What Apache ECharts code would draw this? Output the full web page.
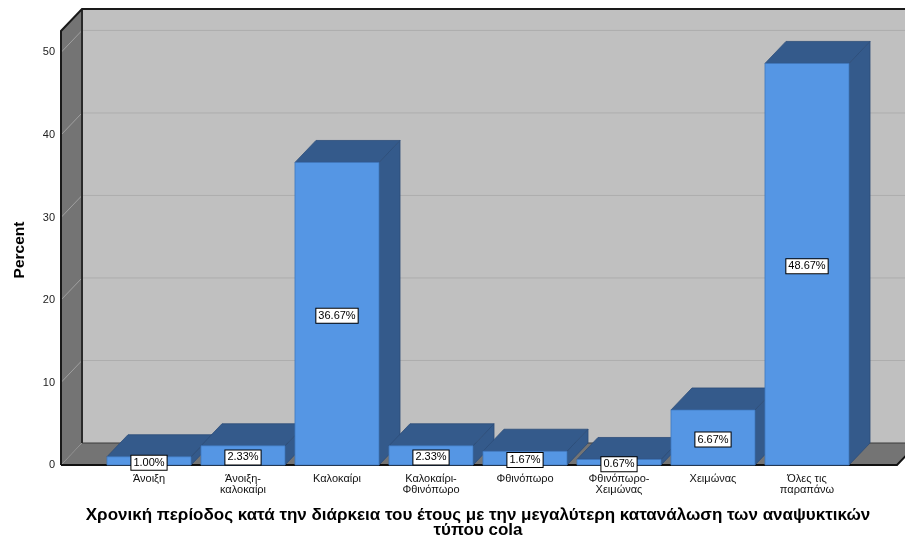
<!DOCTYPE html>
<html>
<head>
<meta charset="utf-8">
<script src="https://cdn.jsdelivr.net/npm/echarts@6/dist/echarts.min.js"></script>
<style>
  html, body { margin: 0; padding: 0; background: #fff; }
  #chart { width: 905px; height: 540px; }
</style>
</head>
<body>
<div id="chart"></div>
<script>
// Period of the year with the highest cola consumption (percent of respondents)
const categories = [
  'Άνοιξη',
  'Άνοιξη-\nκαλοκαίρι',
  'Καλοκαίρι',
  'Καλοκαίρι-\nΦθινόπωρο',
  'Φθινόπωρο',
  'Φθινόπωρο-\nΧειμώνας',
  'Χειμώνας',
  'Όλες τις\nπαραπάνω'
];
const percentValues = [1.00, 2.33, 36.67, 2.33, 1.67, 0.67, 6.67, 48.67];
const yTickValues = [0, 10, 20, 30, 40, 50];
const yMax = 52.6;

const xTitle = 'Χρονική περίοδος κατά την διάρκεια του έτους με την μεγαλύτερη κατανάλωση των αναψυκτικών\nτύπου cola';
const yTitle = 'Percent';

// pseudo-3D look
const DEPTH_X = 21, DEPTH_Y = 22;
const PAD_LEFT = 41, PAD_RIGHT = 43;
const BAR_RATIO = 0.894;
const FONT = 'Arial, "Liberation Sans", sans-serif';

const chart = echarts.init(document.getElementById('chart'), null, { renderer: 'canvas' });

function renderBox(params, api) {
  const band = api.size([1, 0])[0];
  const x0 = api.coord([0, 0])[0] - band / 2 - PAD_LEFT;
  const x1 = api.coord([categories.length - 1, 0])[0] + band / 2 + PAD_RIGHT;
  const yb = api.coord([0, 0])[1];
  const yt = api.coord([0, yMax])[1];
  const bx0 = x0 + DEPTH_X, bx1 = x1 + DEPTH_X;
  const children = [];
  // back wall
  children.push({ type: 'rect', shape: { x: bx0, y: yt - DEPTH_Y, width: bx1 - bx0, height: yb - yt },
    style: { fill: '#c0c0c0' } });
  // gridlines on back wall and left wall
  yTickValues.forEach(function (t) {
    if (t === 0) return;
    const y = api.coord([0, t])[1];
    children.push({ type: 'line', shape: { x1: bx0, y1: y - DEPTH_Y, x2: bx1, y2: y - DEPTH_Y },
      style: { stroke: '#adadad', lineWidth: 1 } });
  });
  // left wall
  children.push({ type: 'polygon', shape: { points: [[x0, yb], [x0, yt], [bx0, yt - DEPTH_Y], [bx0, yb - DEPTH_Y]] },
    style: { fill: '#747474' } });
  yTickValues.forEach(function (t) {
    if (t === 0) return;
    const y = api.coord([0, t])[1];
    children.push({ type: 'line', shape: { x1: x0, y1: y, x2: bx0, y2: y - DEPTH_Y },
      style: { stroke: '#a0a0a0', lineWidth: 1 } });
  });
  // floor
  children.push({ type: 'polygon', shape: { points: [[x0, yb], [x1, yb], [bx1, yb - DEPTH_Y], [bx0, yb - DEPTH_Y]] },
    style: { fill: '#747474' } });
  // edges
  children.push({ type: 'polyline', shape: { points: [[bx0, yb - DEPTH_Y], [bx1, yb - DEPTH_Y]] },
    style: { stroke: '#3a3a3a', lineWidth: 1.2, fill: null } });
  children.push({ type: 'polyline', shape: { points: [[bx0, yb - DEPTH_Y], [bx0, yt - DEPTH_Y]] },
    style: { stroke: '#2a2a2a', lineWidth: 2, fill: null } });
  children.push({ type: 'polyline', shape: { points: [[x0, yb], [x0, yt], [bx0, yt - DEPTH_Y], [bx1, yt - DEPTH_Y]] },
    style: { stroke: '#1a1a1a', lineWidth: 2, fill: null } });
  children.push({ type: 'polyline', shape: { points: [[x0, yb], [x1, yb], [bx1, yb - DEPTH_Y]] },
    style: { stroke: '#111', lineWidth: 2, fill: null } });
  return { type: 'group', children: children };
}

function renderBar(params, api) {
  const idx = api.value(0);
  const val = api.value(1);
  const band = api.size([1, 0])[0];
  const w = band * BAR_RATIO;
  const base = api.coord([idx, 0]);
  const top = api.coord([idx, val]);
  const xl = base[0] - w / 2, xr = base[0] + w / 2;
  const yb = base[1], yt = top[1];
  const dark = '#345a8b';
  return {
    type: 'group',
    children: [
      { type: 'polygon', shape: { points: [[xr, yb], [xr + DEPTH_X, yb - DEPTH_Y], [xr + DEPTH_X, yt - DEPTH_Y], [xr, yt]] },
        style: { fill: dark, stroke: '#2c4d78', lineWidth: 0.8 } },
      { type: 'polygon', shape: { points: [[xl, yt], [xl + DEPTH_X, yt - DEPTH_Y], [xr + DEPTH_X, yt - DEPTH_Y], [xr, yt]] },
        style: { fill: dark, stroke: '#2c4d78', lineWidth: 0.8 } },
      { type: 'rect', shape: { x: xl, y: yt, width: w, height: yb - yt },
        style: { fill: '#5596e4', stroke: '#3f77bd', lineWidth: 0.8 } },
      { type: 'text', x: base[0], y: (yt + yb) / 2 + 2,
        style: { text: val.toFixed(2) + '%', fill: '#000', font: '11px ' + FONT,
          align: 'center', verticalAlign: 'middle', backgroundColor: '#fff',
          borderColor: '#000', borderWidth: 1, padding: [2, 2, 1, 2] } }
    ]
  };
}

chart.setOption({
  animation: false,
  backgroundColor: '#ffffff',
  grid: { left: 102, right: 51, top: 31, bottom: 75, containLabel: false, outerBoundsMode: 'none' },
  xAxis: {
    type: 'category',
    data: categories,
    boundaryGap: true,
    axisLine: { show: false },
    axisTick: { show: false },
    axisLabel: { color: '#111', fontSize: 11, fontFamily: FONT, margin: 8, lineHeight: 11, interval: 0 },
    name: xTitle,
    nameLocation: 'middle',
    nameGap: 43,
    nameTextStyle: { color: '#000', fontSize: 17, fontWeight: 'bold', fontFamily: FONT, lineHeight: 15 }
  },
  yAxis: {
    type: 'value',
    min: 0,
    max: yMax,
    interval: 10,
    axisLine: { show: false },
    axisTick: { show: false },
    splitLine: { show: false },
    axisLabel: {
      color: '#222', fontSize: 11, fontFamily: FONT, margin: 47, padding: [5, 0, 0, 0],
      formatter: function (v) { return yTickValues.indexOf(v) >= 0 ? String(v) : ''; }
    },
    name: yTitle,
    nameLocation: 'middle',
    nameGap: 74,
    nameTextStyle: { color: '#000', fontSize: 15.5, fontWeight: 'bold', fontFamily: FONT, padding: [0, 4, 0, 0] }
  },
  series: [
    {
      type: 'custom',
      z: 1,
      silent: true,
      clip: false,
      renderItem: renderBox,
      data: [[0, 0]],
      encode: { x: 0, y: 1 }
    },
    {
      type: 'custom',
      z: 2,
      clip: false,
      renderItem: renderBar,
      data: percentValues.map(function (v, i) { return [i, v]; }),
      encode: { x: 0, y: 1 }
    }
  ]
});
</script>
</body>
</html>
